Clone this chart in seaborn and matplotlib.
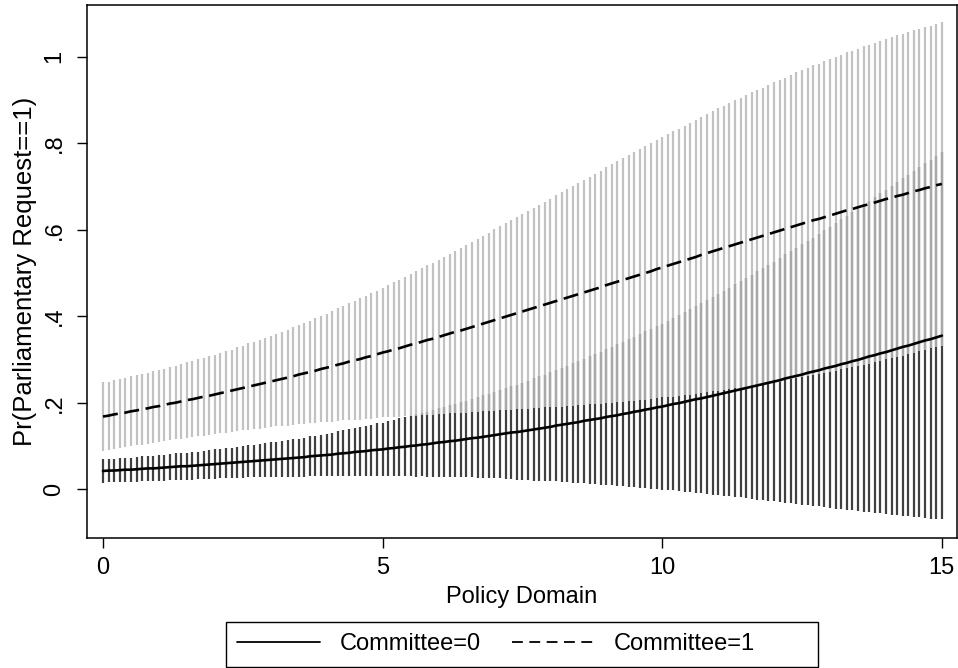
import numpy as np
import pandas as pd
import seaborn as sns
import matplotlib.pyplot as plt
from matplotlib.lines import Line2D
from matplotlib.patches import Rectangle

# margins evaluated at domain = 0(0.1)15
domain = np.round(np.linspace(0, 15, 151), 1)

# Committee=0 : predicted probability and 95% CI half-width
m0 = [0.042, 0.043, 0.043, 0.044, 0.045, 0.045, 0.046, 0.047, 0.048, 0.048,
      0.049, 0.050, 0.051, 0.052, 0.053, 0.053, 0.054, 0.055, 0.056, 0.057,
      0.058, 0.059, 0.060, 0.061, 0.062, 0.063, 0.064, 0.065, 0.066, 0.067,
      0.068, 0.069, 0.070, 0.071, 0.072, 0.073, 0.074, 0.076, 0.077, 0.078,
      0.079, 0.080, 0.082, 0.083, 0.084, 0.086, 0.087, 0.088, 0.090, 0.091,
      0.092, 0.094, 0.095, 0.097, 0.098, 0.100, 0.101, 0.103, 0.104, 0.106,
      0.108, 0.109, 0.111, 0.112, 0.114, 0.116, 0.118, 0.119, 0.121, 0.123,
      0.125, 0.127, 0.129, 0.131, 0.132, 0.134, 0.136, 0.138, 0.140, 0.142,
      0.144, 0.147, 0.149, 0.151, 0.153, 0.155, 0.158, 0.160, 0.162, 0.164,
      0.167, 0.169, 0.171, 0.174, 0.176, 0.179, 0.181, 0.184, 0.186, 0.189,
      0.191, 0.194, 0.197, 0.199, 0.202, 0.205, 0.208, 0.210, 0.213, 0.216,
      0.219, 0.222, 0.225, 0.228, 0.231, 0.234, 0.237, 0.240, 0.243, 0.246,
      0.249, 0.252, 0.256, 0.259, 0.262, 0.265, 0.269, 0.272, 0.275, 0.279,
      0.282, 0.285, 0.289, 0.292, 0.296, 0.299, 0.303, 0.307, 0.310, 0.314,
      0.317, 0.321, 0.325, 0.329, 0.332, 0.336, 0.340, 0.344, 0.347, 0.351,
      0.355]
hw0 = [0.027, 0.027, 0.027, 0.028, 0.028, 0.028, 0.029, 0.029, 0.029, 0.029,
       0.030, 0.030, 0.030, 0.031, 0.031, 0.031, 0.032, 0.032, 0.033, 0.033,
       0.034, 0.034, 0.035, 0.035, 0.036, 0.037, 0.037, 0.038, 0.039, 0.039,
       0.040, 0.041, 0.042, 0.043, 0.043, 0.044, 0.045, 0.046, 0.047, 0.048,
       0.049, 0.050, 0.052, 0.053, 0.054, 0.055, 0.057, 0.058, 0.059, 0.061,
       0.062, 0.064, 0.065, 0.067, 0.068, 0.070, 0.072, 0.073, 0.075, 0.077,
       0.079, 0.081, 0.083, 0.085, 0.087, 0.089, 0.091, 0.093, 0.096, 0.098,
       0.100, 0.102, 0.105, 0.107, 0.110, 0.112, 0.115, 0.118, 0.121, 0.123,
       0.126, 0.129, 0.132, 0.135, 0.138, 0.141, 0.144, 0.147, 0.150, 0.154,
       0.157, 0.160, 0.164, 0.167, 0.171, 0.174, 0.178, 0.181, 0.185, 0.189,
       0.192, 0.196, 0.200, 0.204, 0.208, 0.212, 0.216, 0.220, 0.224, 0.229,
       0.233, 0.237, 0.241, 0.246, 0.250, 0.255, 0.259, 0.264, 0.268, 0.273,
       0.277, 0.282, 0.287, 0.291, 0.296, 0.301, 0.306, 0.310, 0.315, 0.320,
       0.325, 0.330, 0.335, 0.340, 0.345, 0.350, 0.355, 0.360, 0.365, 0.370,
       0.375, 0.380, 0.385, 0.390, 0.395, 0.400, 0.405, 0.410, 0.415, 0.420,
       0.425]

# Committee=1
m1 = [0.168, 0.170, 0.173, 0.175, 0.177, 0.180, 0.182, 0.185, 0.187, 0.190,
      0.192, 0.195, 0.198, 0.200, 0.203, 0.206, 0.208, 0.211, 0.214, 0.216,
      0.219, 0.222, 0.225, 0.228, 0.231, 0.234, 0.237, 0.240, 0.243, 0.246,
      0.249, 0.252, 0.255, 0.258, 0.261, 0.265, 0.268, 0.271, 0.274, 0.278,
      0.281, 0.284, 0.288, 0.291, 0.295, 0.298, 0.301, 0.305, 0.308, 0.312,
      0.316, 0.319, 0.323, 0.326, 0.330, 0.334, 0.337, 0.341, 0.345, 0.348,
      0.352, 0.356, 0.360, 0.364, 0.367, 0.371, 0.375, 0.379, 0.383, 0.387,
      0.391, 0.395, 0.399, 0.403, 0.407, 0.411, 0.415, 0.419, 0.423, 0.427,
      0.431, 0.435, 0.439, 0.443, 0.447, 0.451, 0.455, 0.459, 0.463, 0.467,
      0.472, 0.476, 0.480, 0.484, 0.488, 0.492, 0.496, 0.500, 0.504, 0.509,
      0.513, 0.517, 0.521, 0.525, 0.529, 0.533, 0.537, 0.542, 0.546, 0.550,
      0.554, 0.558, 0.562, 0.566, 0.570, 0.574, 0.578, 0.582, 0.586, 0.590,
      0.594, 0.598, 0.602, 0.606, 0.610, 0.614, 0.618, 0.622, 0.625, 0.629,
      0.633, 0.637, 0.641, 0.645, 0.648, 0.652, 0.656, 0.659, 0.663, 0.667,
      0.671, 0.674, 0.678, 0.681, 0.685, 0.689, 0.692, 0.696, 0.699, 0.703,
      0.706]
hw1 = [0.079, 0.079, 0.080, 0.080, 0.080, 0.081, 0.081, 0.082, 0.082, 0.083,
       0.083, 0.084, 0.085, 0.085, 0.086, 0.087, 0.088, 0.089, 0.090, 0.091,
       0.092, 0.093, 0.094, 0.095, 0.097, 0.098, 0.100, 0.101, 0.103, 0.104,
       0.106, 0.107, 0.109, 0.111, 0.113, 0.115, 0.117, 0.119, 0.121, 0.123,
       0.125, 0.128, 0.130, 0.132, 0.135, 0.137, 0.140, 0.142, 0.145, 0.147,
       0.150, 0.153, 0.156, 0.158, 0.161, 0.164, 0.167, 0.170, 0.173, 0.176,
       0.179, 0.182, 0.185, 0.188, 0.191, 0.194, 0.197, 0.200, 0.203, 0.206,
       0.210, 0.213, 0.216, 0.219, 0.222, 0.225, 0.229, 0.232, 0.235, 0.238,
       0.241, 0.245, 0.248, 0.251, 0.254, 0.257, 0.260, 0.263, 0.267, 0.270,
       0.273, 0.276, 0.279, 0.282, 0.285, 0.287, 0.290, 0.293, 0.296, 0.299,
       0.301, 0.304, 0.307, 0.309, 0.312, 0.315, 0.317, 0.319, 0.322, 0.324,
       0.327, 0.329, 0.331, 0.333, 0.335, 0.338, 0.340, 0.341, 0.343, 0.345,
       0.347, 0.349, 0.350, 0.352, 0.354, 0.355, 0.357, 0.358, 0.359, 0.361,
       0.362, 0.363, 0.364, 0.365, 0.366, 0.367, 0.368, 0.369, 0.369, 0.370,
       0.371, 0.371, 0.372, 0.372, 0.372, 0.373, 0.373, 0.373, 0.373, 0.374,
       0.374]

groups = ["Committee=0", "Committee=1"]
xticks = [0, 5, 10, 15]
yticks = [0, 0.2, 0.4, 0.6, 0.8, 1.0]
ytick_labels = ["0", ".2", ".4", ".6", ".8", "1"]

m0, hw0, m1, hw1 = map(np.array, (m0, hw0, m1, hw1))

df = pd.concat([
    pd.DataFrame({"domain": domain, "pr": m0, "committee": groups[0]}),
    pd.DataFrame({"domain": domain, "pr": m1, "committee": groups[1]}),
])

sns.set_theme(style="white")
plt.rcParams["font.family"] = ["Liberation Sans", "DejaVu Sans"]
plt.rcParams.update({"text.color": "black", "axes.labelcolor": "black",
                     "xtick.color": "black", "ytick.color": "black"})
FS = 17

fig = plt.figure(figsize=(9.58, 6.68), dpi=100)
ax = fig.add_axes([0.0908, 0.1946, 0.908, 0.798])

# CI spikes: dark for committee=0, light (slightly see-through) for committee=1 on top
ax.vlines(domain, m0 - hw0, m0 + hw0, colors="#404040", lw=1.6, zorder=2)
ax.vlines(domain, m1 - hw1, m1 + hw1, colors="#b9b9b9", alpha=0.87, lw=1.6, zorder=3)

sns.lineplot(data=df, x="domain", y="pr", style="committee",
             dashes={groups[0]: "", groups[1]: (5.7, 2.5)},
             color="black", lw=1.9, estimator=None, legend=False,
             ax=ax, zorder=4)

ax.set_xlim(-0.286, 15.268)
ax.set_ylim(-0.113, 1.12)
ax.set_xticks(xticks)
ax.set_xticklabels([str(t) for t in xticks], fontsize=FS)
ax.set_yticks(yticks)
ax.set_yticklabels(ytick_labels, fontsize=FS, rotation=90, va="center")
ax.tick_params(axis="both", direction="out", length=7.5, width=1.0,
               bottom=True, left=True)
ax.tick_params(axis="y", pad=8)
ax.tick_params(axis="x", pad=6)
for s in ax.spines.values():
    s.set_color("black")
    s.set_linewidth(1.1)

ax.set_xlabel("Policy Domain", fontsize=FS, labelpad=5)
ax.set_ylabel("Pr(Parliamentary Request==1)", fontsize=18.5, labelpad=5)

# legend below the plot, Stata style box
fig.patches.append(Rectangle((226 / 958, 1 / 668), 592 / 958, 45 / 668,
                             transform=fig.transFigure, fill=False,
                             edgecolor="black", lw=1.0))
handles = [Line2D([], [], color="black", lw=1.3),
           Line2D([], [], color="black", lw=1.3, ls=(0, (6, 3.6)))]
fig.legend(handles, groups, loc="center left", ncol=2,
           bbox_to_anchor=(237 / 958, 1 - 644.5 / 668), fontsize=FS,
           frameon=False, handlelength=3.5, handletextpad=0.85,
           columnspacing=1.3, borderpad=0.0, borderaxespad=0.0)

fig.savefig("out.png", dpi=100)
